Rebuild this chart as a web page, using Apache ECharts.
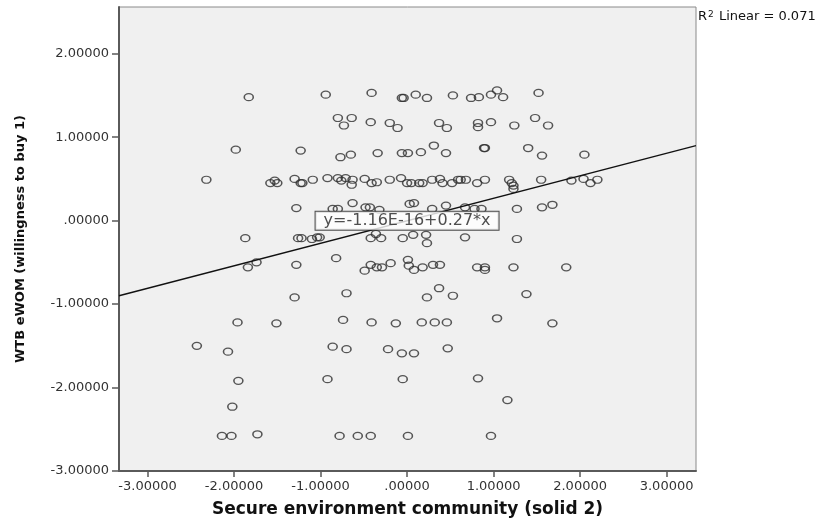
<!DOCTYPE html>
<html>
<head>
<meta charset="utf-8">
<script src="https://cdn.jsdelivr.net/npm/echarts@6/dist/echarts.min.js"></script>
<style>
  html, body { margin: 0; padding: 0; background: #ffffff; }
  #chart { width: 825px; height: 523px; }
</style>
</head>
<body>
<div id="chart"></div>
<script>
// ---- data ----
const xValues = [
  // band ~1.5
  -1.83,-0.94,-0.41,-0.06,-0.04,0.10,0.23,0.53,0.74,0.83,0.97,1.04,1.11,1.52,
  // band ~1.15
  -0.80,-0.73,-0.64,-0.42,-0.20,-0.11,0.37,0.46,0.82,0.82,0.97,1.24,1.48,1.63,
  // band ~0.8
  -1.98,-1.23,-0.77,-0.65,-0.34,-0.06,0.01,0.16,0.31,0.45,0.89,0.90,1.40,1.56,2.05,
  // band ~0.47
  -2.32,-1.58,-1.53,-1.50,-1.30,-1.23,-1.21,-1.09,-0.92,-0.80,-0.76,-0.71,-0.64,-0.63,-0.49,-0.41,-0.35,-0.20,-0.07,0.00,
  0.05,0.14,0.18,0.29,0.38,0.41,0.52,0.59,0.62,0.68,0.81,0.90,1.18,1.21,1.23,1.23,1.55,1.90,2.04,2.12,2.20,
  // band ~0.15
  -1.28,-0.86,-0.80,-0.63,-0.48,-0.43,-0.32,0.03,0.08,0.29,0.45,0.67,0.78,0.86,1.27,1.56,1.68,
  // band ~-0.2
  -1.87,-1.26,-1.22,-1.10,-1.04,-1.01,-0.42,-0.36,-0.30,-0.05,0.07,0.22,0.23,0.67,1.27,
  // band ~-0.55
  -1.84,-1.74,-1.28,-0.82,-0.49,-0.42,-0.35,-0.29,-0.19,0.01,0.02,0.08,0.18,0.30,0.38,0.81,0.90,0.90,1.23,1.84,
  // band ~-0.88
  -1.30,-0.70,0.23,0.37,0.53,1.38,
  // band ~-1.2
  -1.96,-1.51,-0.74,-0.41,-0.13,0.17,0.32,0.46,1.04,1.68,
  // band ~-1.55
  -2.43,-2.07,-0.86,-0.70,-0.22,-0.06,0.08,0.47,
  // band ~-1.9
  -1.95,-0.92,-0.05,0.82,
  // band ~-2.2
  -2.02,1.16,
  // band ~-2.58
  -2.14,-2.03,-1.73,-0.78,-0.57,-0.42,0.01,0.97
];
const yValues = [
  1.48,1.51,1.53,1.47,1.47,1.51,1.47,1.50,1.47,1.48,1.51,1.56,1.48,1.53,
  1.23,1.14,1.23,1.18,1.17,1.11,1.17,1.11,1.17,1.12,1.18,1.14,1.23,1.14,
  0.85,0.84,0.76,0.79,0.81,0.81,0.81,0.82,0.90,0.81,0.87,0.87,0.87,0.78,0.79,
  0.49,0.45,0.48,0.45,0.50,0.45,0.45,0.49,0.51,0.51,0.48,0.51,0.43,0.49,0.50,0.45,0.46,0.49,0.51,0.45,
  0.45,0.45,0.45,0.49,0.50,0.45,0.45,0.49,0.49,0.49,0.45,0.49,0.49,0.45,0.42,0.38,0.49,0.48,0.50,0.45,0.49,
  0.15,0.14,0.14,0.21,0.16,0.16,0.13,0.20,0.21,0.14,0.18,0.16,0.14,0.14,0.14,0.16,0.19,
  -0.21,-0.21,-0.21,-0.22,-0.20,-0.20,-0.21,-0.16,-0.21,-0.21,-0.17,-0.17,-0.27,-0.20,-0.22,
  -0.56,-0.50,-0.53,-0.45,-0.60,-0.53,-0.56,-0.56,-0.51,-0.47,-0.54,-0.59,-0.56,-0.53,-0.53,-0.56,-0.56,-0.59,-0.56,-0.56,
  -0.92,-0.87,-0.92,-0.81,-0.90,-0.88,
  -1.22,-1.23,-1.19,-1.22,-1.23,-1.22,-1.22,-1.22,-1.17,-1.23,
  -1.50,-1.57,-1.51,-1.54,-1.54,-1.59,-1.59,-1.53,
  -1.92,-1.90,-1.90,-1.89,
  -2.23,-2.15,
  -2.58,-2.58,-2.56,-2.58,-2.58,-2.58,-2.58,-2.58
];
// fit line end points as read at the plot edges
const fitLineX = [-3.33, 3.34];
const fitLineY = [-0.90, 0.90];

const xTickValues = [-3, -2, -1, 0, 1, 2, 3];
const xTickLabels = ['-3.00000', '-2.00000', '-1.00000', '.00000', '1.00000', '2.00000', '3.00000'];
const yTickValues = [-3, -2, -1, 0, 1, 2];
const yTickLabels = ['-3.00000', '-2.00000', '-1.00000', '.00000', '1.00000', '2.00000'];

const xAxisTitle = 'Secure environment community (solid 2)';
const yAxisTitle = 'WTB eWOM (willingness to buy 1)';
const equationText = 'y=-1.16E-16+0.27*x';
const r2Value = '0.071';

// ---- chart ----
const chart = echarts.init(document.getElementById('chart'), null, { renderer: 'canvas' });
const FONT = 'DejaVu Sans';
const axisDark = '#5a5a5a';

chart.setOption({
  animation: false,
  backgroundColor: '#ffffff',
  textStyle: { fontFamily: FONT },
  title: {
    text: '{r|R}{s|2}{r| Linear = ' + r2Value + '}',
    left: 698,
    top: 10,
    padding: 0,
    textStyle: {
      fontWeight: 'normal',
      rich: {
        r: { fontFamily: FONT, fontSize: 13, fontWeight: 'normal', color: '#111', lineHeight: 14 },
        s: { fontFamily: FONT, fontSize: 9, fontWeight: 'normal', color: '#111', verticalAlign: 'top', lineHeight: 14, padding: [0, 1, 0, 1] }
      }
    }
  },
  grid: {
    left: 119, top: 7, width: 577, height: 465,
    show: true, backgroundColor: '#f0f0f0', borderColor: '#8a8a8a', borderWidth: 1
  },
  xAxis: {
    type: 'value', min: -3.33, max: 3.34,
    splitLine: { show: false },
    axisLine: { show: true, onZero: false, lineStyle: { color: axisDark, width: 2 } },
    axisTick: { show: true, length: 6, customValues: xTickValues, lineStyle: { color: axisDark, width: 1.5 } },
    axisLabel: {
      customValues: xTickValues, margin: 9, fontSize: 13, color: '#333', fontFamily: FONT,
      formatter: function (v) { const i = xTickValues.indexOf(v); return i >= 0 ? xTickLabels[i] : ''; }
    },
    name: xAxisTitle, nameLocation: 'middle', nameGap: 30,
    nameTextStyle: { fontSize: 17, fontWeight: 'bold', color: '#111', fontFamily: FONT }
  },
  yAxis: {
    type: 'value', min: -3, max: 2.56,
    splitLine: { show: false },
    axisLine: { show: true, onZero: false, lineStyle: { color: axisDark, width: 2 } },
    axisTick: { show: true, length: 7, customValues: yTickValues, lineStyle: { color: axisDark, width: 1.5 } },
    axisLabel: {
      customValues: yTickValues, margin: 10, fontSize: 13, color: '#333', fontFamily: FONT,
      formatter: function (v) { const i = yTickValues.indexOf(v); return i >= 0 ? yTickLabels[i] : ''; }
    },
    name: yAxisTitle, nameLocation: 'middle', nameGap: 92,
    nameTextStyle: { fontSize: 13, fontWeight: 'bold', color: '#111', fontFamily: FONT }
  },
  series: [
    {
      type: 'scatter',
      data: xValues.map(function (x, i) { return [x, yValues[i]]; }),
      symbol: 'circle',
      symbolSize: [9, 7],
      silent: true,
      itemStyle: { color: 'rgba(0,0,0,0)', borderColor: '#2e2e2e', borderWidth: 1.4 },
      emphasis: { disabled: true },
      z: 2
    },
    {
      type: 'line',
      data: fitLineX.map(function (x, i) { return [x, fitLineY[i]]; }),
      symbol: 'none',
      silent: true,
      lineStyle: { color: '#111', width: 1.3 },
      z: 3
    },
    {
      type: 'scatter',
      data: [[0, 0]],
      symbolSize: 1,
      silent: true,
      itemStyle: { color: 'rgba(0,0,0,0)' },
      label: {
        show: true, position: 'inside', formatter: equationText,
        fontFamily: FONT, fontSize: 16, color: '#222',
        backgroundColor: '#ffffff', borderColor: '#222', borderWidth: 1,
        padding: [1, 8, 1, 8]
      },
      z: 10
    }
  ]
});
</script>
</body>
</html>
